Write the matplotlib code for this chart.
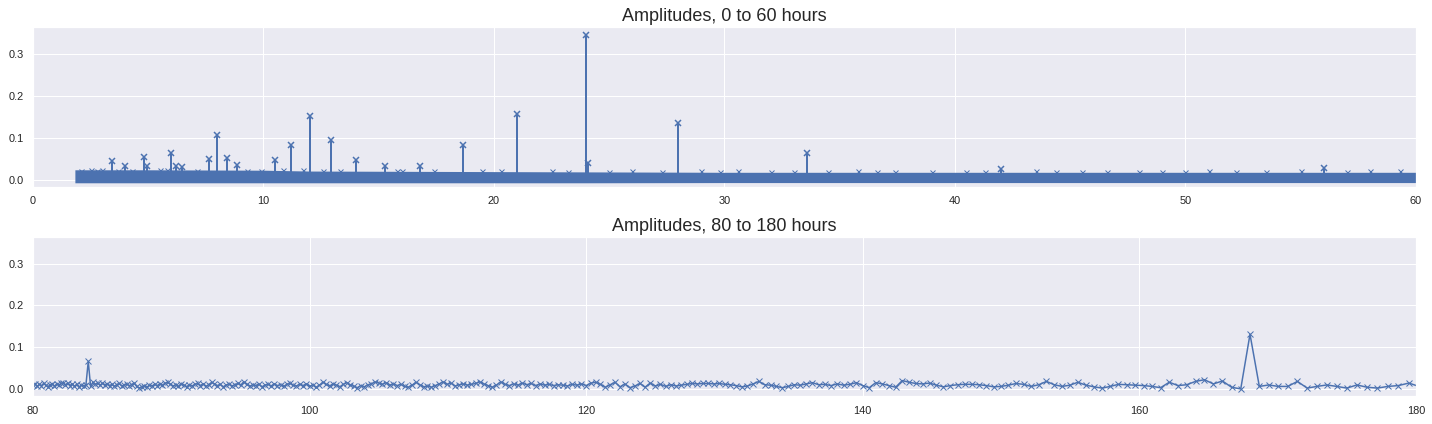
import numpy as np
import matplotlib
matplotlib.use("Agg")
import matplotlib.pyplot as plt
import seaborn as sns

sns.set_theme(style="darkgrid")
plt.rcParams['font.family'] = ['Liberation Sans', 'DejaVu Sans']

blue = "#4c72b0"

# --- top panel (0 to 60 hours) ---
# the noise floor is so dense it reads as a solid band
band_period = [1.82, 5.0, 10.0, 12.0, 18.0, 24.0, 30.0, 40.0, 50.0, 60.0]
band_high = [0.024, 0.024, 0.023, 0.021, 0.020, 0.019, 0.018, 0.018, 0.018, 0.018]
band_low = [-0.007, -0.007, -0.007, -0.007, -0.007, -0.007, -0.0065, -0.0065, -0.0065, -0.0065]

peak_period = [3.43, 4.0, 4.8, 4.94, 6.0, 6.22, 6.46, 7.64, 8.0, 8.4, 8.84,
               10.5, 11.2, 12.0, 12.92, 14.0, 15.27, 16.8, 18.67, 21.0,
               24.0, 24.1, 28.0, 33.6, 42.0, 56.0]
peak_amp = [0.046, 0.032, 0.054, 0.034, 0.063, 0.033, 0.030, 0.050, 0.108, 0.051, 0.036,
            0.048, 0.083, 0.153, 0.096, 0.048, 0.034, 0.034, 0.084, 0.157,
            0.346, 0.041, 0.136, 0.065, 0.025, 0.028]

# small crosses poking out of the top of the band
fuzz_period = [2.1, 2.5, 2.8, 3.0, 3.7, 4.3, 5.5, 5.8, 7.1, 9.3, 9.9, 10.85, 11.7,
               12.6, 13.3, 15.8, 16.0, 17.4, 19.5, 20.3, 22.5, 23.2, 25.0, 26.0, 27.3,
               29.0, 29.8, 30.6, 32.0, 33.0, 34.5, 35.8, 36.6, 37.4, 39.0, 40.5,
               41.3, 43.5, 44.4, 45.5, 46.6, 48.0, 49.0, 50.0, 51.0, 52.2, 53.5,
               55.0, 57.0, 58.0, 59.3]
fuzz_amp = [0.022, 0.023, 0.022, 0.023, 0.022, 0.022, 0.024, 0.023, 0.022, 0.022, 0.021,
            0.023, 0.023, 0.022, 0.021, 0.020, 0.020, 0.021, 0.020, 0.020, 0.020,
            0.019, 0.019, 0.020, 0.019, 0.021, 0.018, 0.020, 0.018, 0.019, 0.019,
            0.020, 0.018, 0.019, 0.018, 0.019, 0.018, 0.020, 0.019, 0.018, 0.018,
            0.018, 0.018, 0.019, 0.020, 0.018, 0.018, 0.020, 0.019, 0.021, 0.020]

# --- bottom panel (80 to 180 hours) ---
record_hours = 42000  # length of the hourly record
last_harmonic = 233
noise_bottom = [
    0.009, 0.012, 0.006, 0.011, 0.008, 0.013, 0.007, 0.010, 0.012, 0.006,
    0.011, 0.008, 0.013, 0.009, 0.005, 0.010, 0.012, 0.007, 0.011, 0.009,
    0.013, 0.015, 0.010, 0.014, 0.008, 0.012, 0.006, 0.011, 0.004, 0.009,
    0.007, 0.010, 0.010, 0.006, 0.016, 0.011, 0.014, 0.009, 0.013, 0.010,
    0.012, 0.008, 0.011, 0.006, 0.010, 0.013, 0.007, 0.009, 0.012, 0.008,
    0.010, 0.014, 0.006, 0.002, 0.005, 0.008, 0.004, 0.009, 0.007, 0.011,
    0.008, 0.012, 0.009, 0.013, 0.016, 0.011, 0.007, 0.010, 0.006, 0.012,
    0.009, 0.005, 0.010, 0.007, 0.011, 0.013, 0.008, 0.012, 0.006, 0.010,
    0.016, 0.012, 0.008, 0.011, 0.005, 0.009, 0.012, 0.007, 0.010, 0.013,
    0.009, 0.017, 0.011, 0.006, 0.010, 0.008, 0.012, 0.005, 0.009, 0.011,
    0.007, 0.012, 0.008, 0.010, 0.006, 0.011, 0.013, 0.009, 0.007, 0.011,
    0.008, 0.012, 0.006, 0.010, 0.004, 0.009, 0.016, 0.011, 0.007, 0.012,
    0.009, 0.005, 0.011, 0.015, 0.010, 0.006, 0.003, 0.008, 0.005, 0.010,
    0.012, 0.017, 0.014, 0.011, 0.015, 0.009, 0.012, 0.008, 0.011, 0.006,
    0.004, 0.009, 0.016, 0.010, 0.005, 0.007, 0.004, 0.008, 0.012, 0.017,
    0.011, 0.014, 0.007, 0.010, 0.012, 0.009, 0.011, 0.013, 0.017, 0.012,
    0.008, 0.004, 0.009, 0.017, 0.011, 0.008, 0.012, 0.009, 0.014, 0.010,
    0.013, 0.008, 0.012, 0.009, 0.011, 0.008, 0.010, 0.009, 0.007, 0.011,
    0.009, 0.012, 0.008, 0.014, 0.016, 0.011, 0.004, 0.010, 0.016, 0.005,
    0.012, 0.003, 0.007, 0.013, 0.004, 0.014, 0.007, 0.011, 0.006, 0.010,
    0.007, 0.009, 0.011, 0.013, 0.012, 0.013, 0.013, 0.012, 0.013, 0.011,
    0.010, 0.008, 0.005, 0.007, 0.012, 0.018, 0.010, 0.009, 0.006, 0.003,
    0.006, 0.010, 0.009, 0.012, 0.015, 0.010, 0.011, 0.008, 0.012, 0.009,
    0.011, 0.015, 0.008, 0.003, 0.015, 0.012, 0.008, 0.004, 0.020, 0.016,
    0.013, 0.012, 0.014, 0.009, 0.005, 0.008, 0.010, 0.011, 0.011, 0.010,
    0.008, 0.005, 0.006, 0.009, 0.013, 0.011, 0.006, 0.010, 0.018, 0.010,
    0.006, 0.009, 0.016, 0.009, 0.005, 0.002, 0.006, 0.011, 0.010, 0.009,
    0.008, 0.006, 0.003, 0.016, 0.008, 0.010, 0.018, 0.022, 0.012, 0.019,
    0.004, 0.000, 0.010, 0.006, 0.0095, 0.006, 0.006, 0.018, 0.002, 0.006,
    0.0095, 0.006, 0.002, 0.0095, 0.004, 0.002, 0.006, 0.008, 0.014, 0.0055,
]
bottom_peak_harmonic = [500, 250]   # 84 h and 168 h
bottom_peak_amp = [0.066, 0.131]

harmonic = np.arange(last_harmonic + len(noise_bottom) - 1, last_harmonic - 1, -1)
amp_bottom = np.array(noise_bottom, dtype=float)
for h, a in zip(bottom_peak_harmonic, bottom_peak_amp):
    amp_bottom[harmonic == h] = a
period_bottom = record_hours / harmonic

fig = plt.figure(figsize=(1432 / 72, 424 / 72), dpi=72)
ax1 = fig.add_axes([0.023, 0.559, 0.9658, 0.377])
ax2 = fig.add_axes([0.023, 0.066, 0.9658, 0.375], sharey=ax1)

ax1.fill_between(band_period, band_low, band_high, color=blue, lw=0)
ax1.vlines(peak_period, 0.0, peak_amp, color=blue, lw=2)
ax1.plot(peak_period, peak_amp, 'x', color=blue, ms=6, mew=1.5)
ax1.plot(fuzz_period, fuzz_amp, 'x', color=blue, ms=5, mew=1.0)
ax1.set_xlim(0, 60)
ax1.set_title("Amplitudes, 0 to 60 hours", fontsize=18)

ax2.plot(period_bottom, amp_bottom, marker='x', color=blue, lw=1.5, ms=6)
ax2.set_xlim(80, 180)
ax2.set_title("Amplitudes, 80 to 180 hours", fontsize=18)

ax1.set_ylim(-0.017, 0.364)
ax1.set_yticks([0.0, 0.1, 0.2, 0.3])
for ax in (ax1, ax2):
    ax.tick_params(labelsize=11, colors='.15')

fig.savefig("out.png", dpi=72)
